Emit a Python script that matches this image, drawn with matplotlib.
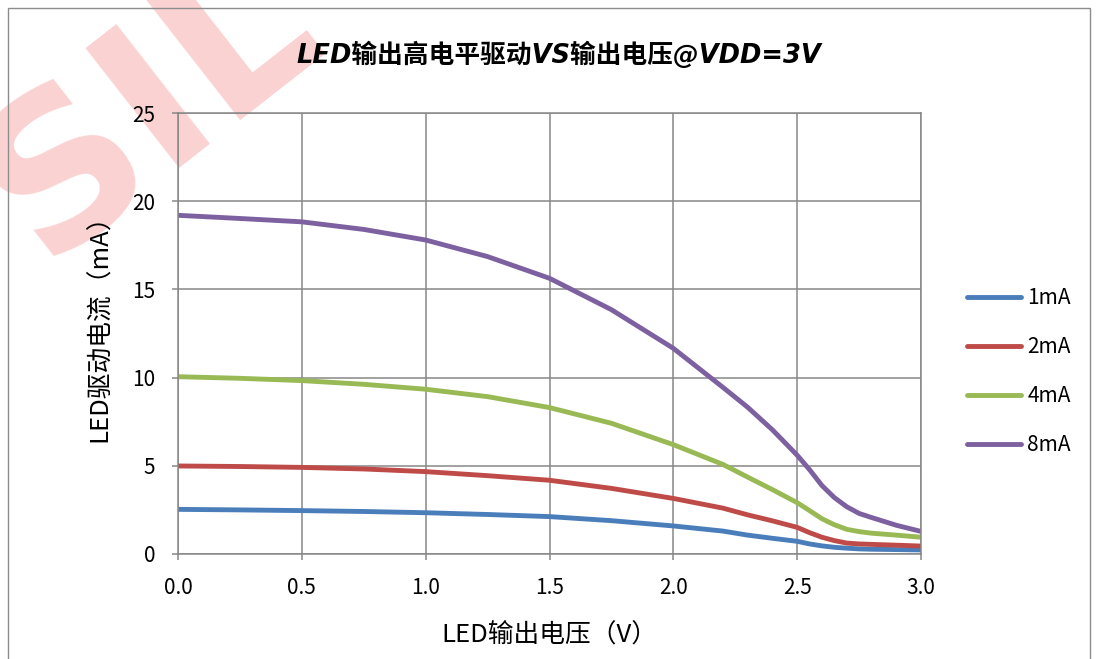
import matplotlib
matplotlib.use("Agg")
import matplotlib.pyplot as plt
from matplotlib.patches import Rectangle

# 字体：中文用 Noto Sans CJK SC
matplotlib.rcParams['font.family'] = ['Noto Sans CJK SC', 'DejaVu Sans']
matplotlib.rcParams['axes.unicode_minus'] = False

# 输出电压 (V)
voltage = [0.0, 0.25, 0.5, 0.75, 1.0, 1.25, 1.5, 1.75, 2.0, 2.2, 2.3, 2.4, 2.5,
           2.55, 2.6, 2.65, 2.7, 2.75, 2.8, 2.9, 3.0]

# 各档驱动电流 (mA)
i_1ma = [2.53, 2.50, 2.46, 2.41, 2.34, 2.24, 2.12, 1.89, 1.59, 1.30, 1.07, 0.89, 0.72,
         0.57, 0.46, 0.38, 0.33, 0.29, 0.27, 0.25, 0.23]
i_2ma = [4.99, 4.96, 4.91, 4.82, 4.67, 4.44, 4.18, 3.72, 3.15, 2.60, 2.22, 1.88, 1.51,
         1.21, 0.95, 0.76, 0.62, 0.57, 0.545, 0.50, 0.45]
i_4ma = [10.05, 9.96, 9.83, 9.62, 9.34, 8.92, 8.30, 7.41, 6.20, 5.08, 4.36, 3.65, 2.91,
         2.46, 2.00, 1.66, 1.40, 1.27, 1.18, 1.07, 0.95]
i_8ma = [19.2, 19.02, 18.83, 18.4, 17.8, 16.86, 15.63, 13.85, 11.66, 9.45, 8.32, 7.04, 5.6,
         4.78, 3.88, 3.2, 2.68, 2.3, 2.07, 1.63, 1.28]

labels = ['1mA', '2mA', '4mA', '8mA']
colors = ['#4a7ebb', '#be4b48', '#98b954', '#7d60a0']
series = [i_1ma, i_2ma, i_4ma, i_8ma]

xticks = [0.0, 0.5, 1.0, 1.5, 2.0, 2.5, 3.0]
yticks = [0, 5, 10, 15, 20, 25]

W, H = 1100, 659
fig = plt.figure(figsize=(W / 100, H / 100), dpi=100)

# 背景水印（放在最底层）
fig.text(-0.05, 0.615, 'SIL', fontsize=150, fontweight='bold', color='#fad2d2',
         rotation=38, ha='left', va='baseline', zorder=-5, family=['DejaVu Sans'])

# 外边框
fig.add_artist(Rectangle((8 / W, -0.05), (1090 - 8) / W, 1.05 - 8 / H,
                         transform=fig.transFigure, fill=False,
                         edgecolor='#8c8c8c', linewidth=1.0, zorder=1))

ax = fig.add_axes([178 / W, 1 - 554 / H, (921 - 178) / W, (554 - 113) / H])
ax.patch.set_alpha(0)

for y, lab, c in zip(series, labels, colors):
    ax.plot(voltage, y, color=c, linewidth=3.5, label=lab,
            solid_capstyle='round', solid_joinstyle='round')

ax.set_xlim(0, 3)
ax.set_ylim(0, 25)
ax.set_xticks(xticks)
ax.set_xticklabels(['%.1f' % v for v in xticks])
ax.set_yticks(yticks)

grid_c = '#878787'
ax.grid(True, color=grid_c, linewidth=1.1)
ax.set_axisbelow(True)
for s in ax.spines.values():
    s.set_color(grid_c)
    s.set_linewidth(1.1)
ax.tick_params(direction='out', length=4.5, width=1.1, color=grid_c,
               labelsize=15, pad=12)

ax.set_xlabel('LED输出电压（V）', fontsize=18.5)
ax.xaxis.set_label_coords(0.50, -0.152)
ax.set_ylabel('LED驱动电流（mA）', fontsize=18.5)
ax.yaxis.set_label_coords(-0.087, 0.527)

fig.text(559 / W, 1 - 55 / H, 'LED输出高电平驱动VS输出电压@VDD=3V',
         fontsize=18.5, fontweight='bold', fontstyle='oblique',
         family=['DejaVu Sans', 'Noto Sans CJK SC'],
         ha='center', va='center')

ax.legend(loc='center left', bbox_to_anchor=(967 / W, 1 - 371.5 / H),
          bbox_transform=fig.transFigure, frameon=False, fontsize=15,
          handlelength=2.6, handletextpad=0.3, labelspacing=1.29,
          borderpad=0, borderaxespad=0)

plt.savefig('out.png', dpi=100)
plt.close()
